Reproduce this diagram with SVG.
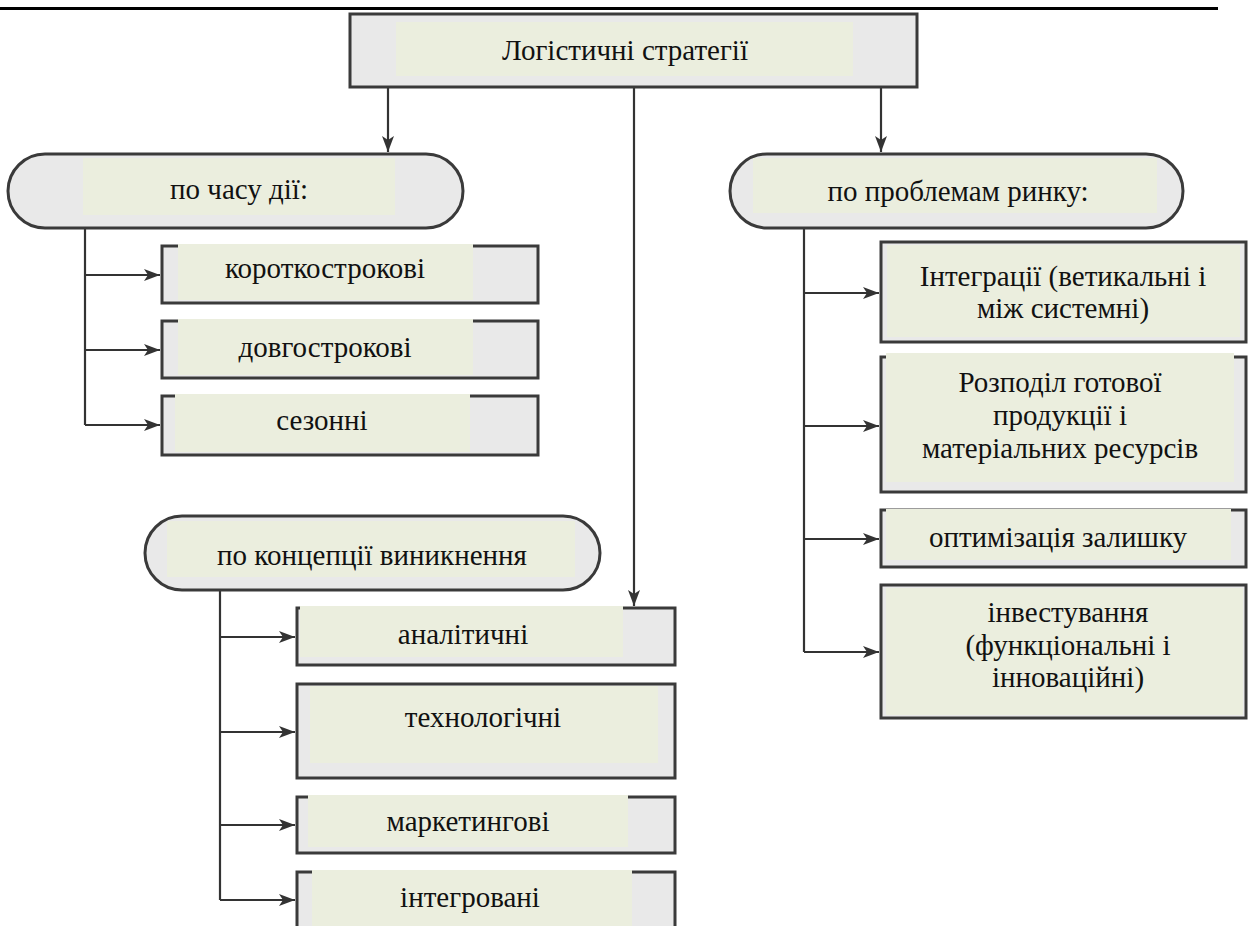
<svg xmlns="http://www.w3.org/2000/svg" width="1249" height="926" viewBox="0 0 1249 926">
<style>
.box{fill:#e9e9e9;stroke:#3a3a3a;stroke-width:3}
.in{fill:#ebeede}
.t{font-family:"Liberation Serif","Tinos","Times New Roman","DejaVu Serif",serif;font-size:29px;fill:#111;text-anchor:middle}
.c{fill:none;stroke:#333;stroke-width:2.2}
</style>
<defs>
<marker id="ah" markerUnits="userSpaceOnUse" markerWidth="18" markerHeight="14" refX="16" refY="6" orient="auto">
<path d="M0,0 L16,6 L0,12 L4,6 z" fill="#333"/>
</marker>
</defs>
<rect width="1249" height="926" fill="#ffffff"/>
<line x1="0" y1="8.5" x2="1218" y2="8.5" stroke="#000" stroke-width="3"/>

<g id="connectors">
<path class="c" d="M388,87 V152" marker-end="url(#ah)"/>
<path class="c" d="M881,87 V152" marker-end="url(#ah)"/>
<path class="c" d="M634,87 V606" marker-end="url(#ah)"/>
<path class="c" d="M85,228 V425"/>
<path class="c" d="M85,275 H160" marker-end="url(#ah)"/>
<path class="c" d="M85,350 H160" marker-end="url(#ah)"/>
<path class="c" d="M85,425 H160" marker-end="url(#ah)"/>
<path class="c" d="M804,228 V652"/>
<path class="c" d="M804,293 H879" marker-end="url(#ah)"/>
<path class="c" d="M804,426 H879" marker-end="url(#ah)"/>
<path class="c" d="M804,539 H879" marker-end="url(#ah)"/>
<path class="c" d="M804,652 H879" marker-end="url(#ah)"/>
<path class="c" d="M220,590 V900"/>
<path class="c" d="M220,637 H295" marker-end="url(#ah)"/>
<path class="c" d="M220,732 H295" marker-end="url(#ah)"/>
<path class="c" d="M220,825 H295" marker-end="url(#ah)"/>
<path class="c" d="M220,900 H295" marker-end="url(#ah)"/>
</g>

<g id="root">
<rect class="box" x="350" y="14" width="567" height="73"/>
<rect class="in" x="396" y="22" width="457" height="54"/>
<text class="t" x="625" y="60">Логістичні стратегії</text>
</g>

<g id="time">
<rect class="box" x="8" y="154" width="455" height="74" rx="37"/>
<rect class="in" x="83" y="158" width="312" height="57"/>
<text class="t" x="239" y="199">по часу дії:</text>
</g>
<g id="short">
<rect class="box" x="162" y="246" width="376" height="57"/>
<rect class="in" x="178" y="244" width="295" height="56"/>
<text class="t" x="325" y="278">короткострокові</text>
</g>
<g id="long">
<rect class="box" x="162" y="321" width="376" height="57"/>
<rect class="in" x="178" y="319" width="295" height="56"/>
<text class="t" x="325" y="357">довгострокові</text>
</g>
<g id="season">
<rect class="box" x="162" y="396" width="376" height="59"/>
<rect class="in" x="175" y="394" width="295" height="58"/>
<text class="t" x="322" y="430">сезонні</text>
</g>

<g id="market">
<rect class="box" x="730" y="154" width="453" height="74" rx="37"/>
<rect class="in" x="753" y="158" width="404" height="55"/>
<text class="t" x="958" y="201">по проблемам ринку:</text>
</g>
<g id="integration">
<rect class="box" x="881" y="242" width="365" height="100"/>
<rect class="in" x="887" y="245" width="353" height="92"/>
<text class="t" x="1063" y="286">Інтеграції (ветикальні і</text>
<text class="t" x="1063" y="318">між системні)</text>
</g>
<g id="distribution">
<rect class="box" x="881" y="357" width="365" height="135"/>
<rect class="in" x="886" y="353" width="348" height="129"/>
<text class="t" x="1060" y="392">Розподіл готової</text>
<text class="t" x="1060" y="425">продукції і</text>
<text class="t" x="1060" y="458">матеріальних ресурсів</text>
</g>
<g id="stock">
<rect class="box" x="881" y="510" width="365" height="57"/>
<rect class="in" x="886" y="509" width="345" height="51"/>
<text class="t" x="1058" y="547">оптимізація залишку</text>
</g>
<g id="invest">
<rect class="box" x="881" y="585" width="365" height="133"/>
<rect class="in" x="886" y="588" width="357" height="127"/>
<text class="t" x="1068" y="622">інвестування</text>
<text class="t" x="1068" y="655">(функціональні і</text>
<text class="t" x="1068" y="687">інноваційні)</text>
</g>

<g id="concept">
<rect class="box" x="145" y="516" width="455" height="74" rx="37"/>
<rect class="in" x="167" y="521" width="408" height="56"/>
<text class="t" x="372" y="565">по концепції виникнення</text>
</g>
<g id="analytic">
<rect class="box" x="297" y="608" width="378" height="57"/>
<rect class="in" x="300" y="606" width="323" height="51"/>
<text class="t" x="463" y="644">аналітичні</text>
</g>
<g id="tech">
<rect class="box" x="297" y="684" width="378" height="94"/>
<rect class="in" x="310" y="686" width="348" height="77"/>
<text class="t" x="483" y="727">технологічні</text>
</g>
<g id="marketing">
<rect class="box" x="297" y="797" width="378" height="56"/>
<rect class="in" x="308" y="795" width="320" height="52"/>
<text class="t" x="468" y="831">маркетингові</text>
</g>
<g id="integrated">
<rect class="box" x="297" y="872" width="378" height="70"/>
<rect class="in" x="312" y="870" width="320" height="56"/>
<text class="t" x="470" y="907">інтегровані</text>
</g>
</svg>
